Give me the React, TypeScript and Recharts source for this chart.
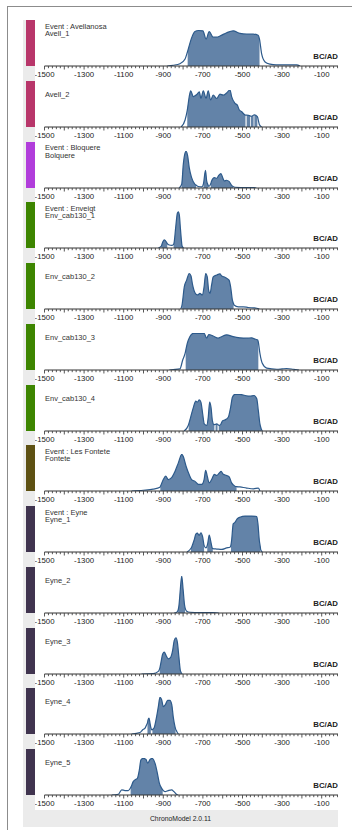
import React from "react";
import { ComposedChart, Area, Line, XAxis, YAxis } from "recharts";

// density curves: [year, relative density]
const avell1Curve: [number, number][] = [
  [-880, 0], [-850, 0.02], [-816, 0.06], [-790, 0.19], [-777, 0.4], [-757, 0.76], [-740, 0.93],
  [-722, 0.96], [-700, 0.95], [-684, 0.73], [-668, 0.93], [-649, 0.78], [-630, 0.78], [-614, 0.81],
  [-580, 0.9], [-547, 0.95], [-513, 0.88], [-479, 0.86], [-446, 0.86], [-421, 0.83], [-414, 0.72],
  [-403, 0.32], [-386, 0.11], [-361, 0.05], [-330, 0.03], [-260, 0.03], [-226, 0.03], [-210, 0],
];
const avell1Hpd: [number, number][] = [[-777, -414]];

const avell2Curve: [number, number][] = [
  [-810, 0], [-790, 0.19], [-779, 0.45], [-769, 0.82], [-762, 0.98], [-748, 0.82], [-731, 0.88],
  [-718, 0.95], [-710, 0.77], [-698, 0.98], [-684, 0.77], [-673, 0.98], [-661, 0.73], [-648, 0.86],
  [-630, 0.77], [-614, 0.89], [-597, 0.86], [-580, 0.92], [-563, 1.0], [-555, 0.82], [-538, 0.64],
  [-526, 0.59], [-516, 0.46], [-504, 0.41], [-485, 0.32], [-482, 0.32], [-479, 0.32], [-461, 0.3],
  [-459, 0.29], [-457, 0.29], [-444, 0.32], [-442, 0.33], [-440, 0.33], [-425, 0.28], [-415, 0.07],
  [-403, 0],
];
const avell2Hpd: [number, number][] = [[-779, -485], [-479, -461], [-457, -444], [-440, -425]];

const bolquereCurve: [number, number][] = [
  [-820, 0], [-807, 0.1], [-799, 0.64], [-790, 0.95], [-785, 0.99], [-777, 0.87], [-769, 0.55],
  [-757, 0.28], [-740, 0.1], [-735, 0.08], [-723, 0.04], [-706, 0.03], [-697, 0.12], [-695, 0.19],
  [-687, 0.48], [-681, 0.19], [-674, 0.08], [-670, 0.04], [-660, 0.12], [-656, 0.19], [-642, 0.28],
  [-630, 0.26], [-619, 0.35], [-609, 0.39], [-600, 0.28], [-592, 0.19], [-580, 0.21], [-567, 0.17],
  [-555, 0.07], [-548, 0.04], [-538, 0.02], [-480, 0.01], [-445, 0.01], [-430, 0],
];
const bolquereHpd: [number, number][] = [[-807, -735], [-697, -674], [-660, -548]];

const env1Curve: [number, number][] = [
  [-925, 0], [-910, 0.05], [-905, 0.13], [-895, 0.22], [-883, 0.15], [-880, 0.12], [-870, 0.08],
  [-858, 0.07], [-848, 0.1], [-846, 0.13], [-837, 0.58], [-829, 0.94], [-824, 0.98], [-819, 0.89],
  [-813, 0.49], [-806, 0.08], [-803, 0.03], [-797, 0],
];
const env1Hpd: [number, number][] = [[-910, -880], [-848, -803]];

const env2Curve: [number, number][] = [
  [-812, 0], [-805, 0.12], [-802, 0.24], [-794, 0.6], [-782, 0.78], [-769, 0.96], [-760, 0.89],
  [-752, 0.65], [-740, 0.44], [-727, 0.38], [-715, 0.42], [-703, 0.38], [-694, 0.6], [-686, 0.96],
  [-678, 0.87], [-671, 0.51], [-664, 0.42], [-656, 0.65], [-648, 0.87], [-630, 0.92], [-614, 0.95],
  [-605, 0.89], [-594, 0.87], [-580, 0.83], [-568, 0.78], [-560, 0.6], [-551, 0.24], [-545, 0.14],
  [-543, 0.11], [-521, 0.06], [-496, 0.06], [-471, 0.04], [-445, 0.03], [-428, 0.02], [-415, 0],
];
const env2Hpd: [number, number][] = [[-805, -545]];

const env3Curve: [number, number][] = [
  [-870, 0], [-850, 0.01], [-816, 0.03], [-802, 0.27], [-790, 0.45], [-787, 0.52], [-779, 0.72],
  [-766, 0.9], [-749, 0.99], [-723, 0.99], [-694, 0.99], [-681, 0.86], [-670, 0.96], [-648, 0.92],
  [-623, 0.86], [-606, 0.9], [-580, 0.95], [-547, 0.9], [-513, 0.87], [-479, 0.86], [-454, 0.87],
  [-434, 0.83], [-423, 0.81], [-420, 0.75], [-412, 0.45], [-400, 0.18], [-378, 0.05], [-327, 0.02],
  [-300, 0.03], [-277, 0.04], [-243, 0.02], [-215, 0],
];
const env3Hpd: [number, number][] = [[-787, -420]];

const env4Curve: [number, number][] = [
  [-795, 0], [-774, 0.15], [-772, 0.18], [-762, 0.37], [-748, 0.64], [-736, 0.81], [-728, 0.78],
  [-718, 0.84], [-710, 0.78], [-701, 0.46], [-693, 0.19], [-681, 0.15], [-673, 0.37], [-666, 0.78],
  [-659, 0.64], [-652, 0.28], [-644, 0.17], [-642, 0.17], [-639, 0.18], [-636, 0.18], [-630, 0.19],
  [-626, 0.18], [-622, 0.16], [-620, 0.16], [-614, 0.15], [-600, 0.28], [-588, 0.3], [-572, 0.37],
  [-560, 0.64], [-551, 0.91], [-538, 0.99], [-513, 0.99], [-487, 0.96], [-462, 0.94], [-442, 0.96],
  [-428, 0.87], [-420, 0.55], [-412, 0.19], [-405, 0.05], [-400, 0],
];
const env4Hpd: [number, number][] = [[-772, -642], [-636, -626], [-620, -405]];

const fonteteCurve: [number, number][] = [
  [-1060, 0], [-1001, 0.02], [-951, 0.05], [-917, 0.1], [-915, 0.12], [-900, 0.31], [-888, 0.4],
  [-875, 0.31], [-858, 0.36], [-841, 0.53], [-824, 0.76], [-807, 0.99], [-799, 0.93], [-785, 0.67],
  [-770, 0.45], [-757, 0.31], [-740, 0.26], [-723, 0.18], [-706, 0.18], [-694, 0.31], [-686, 0.56],
  [-678, 0.4], [-668, 0.22], [-656, 0.31], [-642, 0.45], [-630, 0.42], [-617, 0.49], [-608, 0.53],
  [-597, 0.45], [-580, 0.42], [-567, 0.38], [-555, 0.22], [-538, 0.13], [-530, 0.12], [-513, 0.11],
  [-479, 0.08], [-445, 0.06], [-420, 0.08], [-412, 0],
];
const fonteteHpd: [number, number][] = [[-915, -530]];

const eyne1Curve: [number, number][] = [
  [-780, 0], [-760, 0.1], [-757, 0.13], [-745, 0.31], [-735, 0.49], [-728, 0.51], [-719, 0.45],
  [-710, 0.52], [-701, 0.4], [-694, 0.18], [-684, 0.11], [-678, 0.18], [-676, 0.22], [-668, 0.46],
  [-661, 0.31], [-653, 0.11], [-650, 0.09], [-630, 0.08], [-605, 0.07], [-580, 0.11], [-563, 0.13],
  [-558, 0.2], [-555, 0.31], [-547, 0.76], [-538, 0.8], [-526, 0.9], [-513, 0.94], [-487, 0.97],
  [-454, 0.97], [-428, 0.96], [-422, 0.76], [-415, 0.31], [-410, 0.14], [-408, 0.06], [-400, 0],
];
const eyne1Hpd: [number, number][] = [[-760, -694], [-678, -650], [-558, -410]];

const eyne2Curve: [number, number][] = [
  [-845, 0], [-832, 0.02], [-825, 0.08], [-821, 0.2], [-814, 0.64], [-807, 1.0], [-800, 0.64],
  [-793, 0.23], [-790, 0.14], [-782, 0.05], [-765, 0.02], [-715, 0.01], [-649, 0.01], [-620, 0],
];
const eyne2Hpd: [number, number][] = [[-825, -790]];

const eyne3Curve: [number, number][] = [
  [-1010, 0], [-951, 0.01], [-925, 0.07], [-918, 0.15], [-913, 0.28], [-903, 0.54], [-895, 0.59],
  [-886, 0.5], [-875, 0.41], [-863, 0.45], [-853, 0.63], [-845, 0.9], [-836, 0.98], [-829, 0.86],
  [-821, 0.45], [-814, 0.1], [-811, 0.05], [-805, 0],
];
const eyne3Hpd: [number, number][] = [[-918, -811]];

const eyne4Curve: [number, number][] = [
  [-1060, 0], [-1018, 0.04], [-1005, 0.11], [-992, 0.16], [-984, 0.25], [-980, 0.3], [-977, 0.38],
  [-972, 0.43], [-967, 0.29], [-963, 0.18], [-958, 0.11], [-955, 0.12], [-947, 0.16], [-937, 0.38],
  [-925, 0.74], [-917, 0.99], [-908, 0.92], [-900, 0.74], [-890, 0.79], [-878, 0.91], [-867, 0.91],
  [-857, 0.79], [-850, 0.47], [-841, 0.2], [-838, 0.14], [-832, 0.07], [-824, 0],
];
const eyne4Hpd: [number, number][] = [[-980, -963], [-955, -838]];

const eyne5Curve: [number, number][] = [
  [-1160, 0], [-1127, 0.02], [-1110, 0.14], [-1094, 0.12], [-1077, 0.12], [-1065, 0.2], [-1063, 0.22],
  [-1052, 0.36], [-1043, 0.41], [-1031, 0.45], [-1021, 0.68], [-1013, 0.95], [-1001, 0.99],
  [-987, 0.96], [-979, 0.86], [-967, 0.96], [-956, 0.99], [-942, 0.86], [-930, 0.59], [-920, 0.32],
  [-908, 0.18], [-903, 0.14], [-891, 0.09], [-875, 0.12], [-858, 0.14], [-846, 0.09], [-832, 0.01],
  [-825, 0],
];
const eyne5Hpd: [number, number][] = [[-1065, -903]];

const tickLabels = [-1500, -1300, -1100, -900, -700, -500, -300, -100];

const panels = [
  { name: "Avell_1", event: "Avellanosa", first: true, curve: avell1Curve, hpd: avell1Hpd },
  { name: "Avell_2", event: "Avellanosa", first: false, curve: avell2Curve, hpd: avell2Hpd },
  { name: "Bolquere", event: "Bloquere", first: true, curve: bolquereCurve, hpd: bolquereHpd },
  { name: "Env_cab130_1", event: "Enveigt", first: true, curve: env1Curve, hpd: env1Hpd },
  { name: "Env_cab130_2", event: "Enveigt", first: false, curve: env2Curve, hpd: env2Hpd },
  { name: "Env_cab130_3", event: "Enveigt", first: false, curve: env3Curve, hpd: env3Hpd },
  { name: "Env_cab130_4", event: "Enveigt", first: false, curve: env4Curve, hpd: env4Hpd },
  { name: "Fontete", event: "Les Fontete", first: true, curve: fonteteCurve, hpd: fonteteHpd },
  { name: "Eyne_1", event: "Eyne", first: true, curve: eyne1Curve, hpd: eyne1Hpd },
  { name: "Eyne_2", event: "Eyne", first: false, curve: eyne2Curve, hpd: eyne2Hpd },
  { name: "Eyne_3", event: "Eyne", first: false, curve: eyne3Curve, hpd: eyne3Hpd },
  { name: "Eyne_4", event: "Eyne", first: false, curve: eyne4Curve, hpd: eyne4Hpd },
  { name: "Eyne_5", event: "Eyne", first: false, curve: eyne5Curve, hpd: eyne5Hpd },
];

const eventColors: Record<string, string> = {
  Avellanosa: "#b8366a",
  Bloquere: "#b13ddb",
  Enveigt: "#3d8500",
  "Les Fontete": "#5e5113",
  Eyne: "#40344f",
};

// minor ticks every 20 years
const axisTicks: number[] = [];
for (let t = -1500; t <= 0; t += 20) axisTicks.push(t);

const FONT = '"Liberation Sans", Arial, Helvetica, sans-serif';
const PITCH = 60.75;

function AxisTick(props: any) {
  const { x, y, payload } = props;
  const v = payload.value;
  const major = v % 100 === 0;
  return (
    <g>
      <line x1={x} x2={x} y1={y} y2={y + (major ? 3.5 : 2.2)} stroke="#444" strokeWidth={0.9} />
      {tickLabels.includes(v) && (
        <text x={x} y={y + 10.5} textAnchor="middle" fontSize={7.8} fontFamily={FONT} fill="#1a1a1a">
          {v}
        </text>
      )}
    </g>
  );
}

function Panel({ p, index }: { p: (typeof panels)[number]; index: number }) {
  const inHpd = (year: number) => p.hpd.some(([a, b]) => year >= a && year <= b);
  const data = p.curve.map(([year, d]) => ({
    year,
    density: d,
    hpd: inHpd(year) ? d : null,
  }));
  return (
    <div style={{ position: "absolute", left: 0, top: index * PITCH, width: 400, height: PITCH }}>
      <div
        style={{
          position: "absolute",
          left: 3,
          top: 0,
          width: 9,
          height: 46,
          background: eventColors[p.event],
        }}
      />
      <div
        style={{
          position: "absolute",
          left: 12,
          top: 0,
          width: 330,
          height: PITCH,
          background: "#fff",
        }}
      >
        <ComposedChart
          width={320}
          height={60}
          data={data}
          margin={{ top: 9, right: 13.5, left: 9.5, bottom: 0 }}
        >
          <XAxis
            dataKey="year"
            type="number"
            domain={[-1500, 0]}
            ticks={axisTicks}
            interval={0}
            tickSize={0}
            tickMargin={0}
            tickLine={false}
            axisLine={{ stroke: "#333", strokeWidth: 1 }}
            tick={(tp: any) => <AxisTick {...tp} />}
            height={14}
            allowDataOverflow
          />
          <YAxis hide domain={[0, 1]} allowDataOverflow />
          <Area
            dataKey="hpd"
            type="monotone"
            fill="#6383a8"
            fillOpacity={1}
            stroke="none"
            isAnimationActive={false}
            activeDot={false}
          />
          <Line
            dataKey="density"
            type="monotone"
            stroke="#2d5a8b"
            strokeWidth={1.2}
            dot={false}
            activeDot={false}
            isAnimationActive={false}
          />
        </ComposedChart>
        <div
          style={{
            position: "absolute",
            left: 10,
            top: 2.5,
            fontFamily: FONT,
            fontSize: 7.5,
            lineHeight: "7.5px",
            color: "#333",
            whiteSpace: "nowrap",
          }}
        >
          {p.first ? <div>Event : {p.event}</div> : <div>&nbsp;</div>}
          <div>{p.name}</div>
        </div>
        <div
          style={{
            position: "absolute",
            right: 27,
            top: 32,
            fontFamily: FONT,
            fontSize: 7.8,
            fontWeight: "bold",
            lineHeight: "10px",
            color: "#222",
          }}
        >
          BC/AD
        </div>
      </div>
    </div>
  );
}

export default function App() {
  return (
    <div style={{ position: "absolute", left: 0, top: 0, width: 352, height: 839, background: "#fff" }}>
      <div
        style={{
          position: "absolute",
          left: 7,
          top: 6,
          width: 345,
          height: 824,
          borderLeft: "1px solid #8c8c8c",
          borderTop: "1px solid #8c8c8c",
          boxSizing: "border-box",
        }}
      />
      <div
        style={{
          position: "absolute",
          left: 23,
          top: 20,
          width: 315,
          height: 807,
          background: "#ebebeb",
          overflow: "hidden",
        }}
      >
        {panels.map((p, i) => (
          <Panel key={p.name} p={p} index={i} />
        ))}
        <div
          style={{
            position: "absolute",
            left: 0,
            top: 790,
            width: 315,
            height: 17,
            lineHeight: "17px",
            textAlign: "center",
            fontFamily: FONT,
            fontSize: 6.8,
            color: "#222",
          }}
        >
          ChronoModel 2.0.11
        </div>
      </div>
    </div>
  );
}
